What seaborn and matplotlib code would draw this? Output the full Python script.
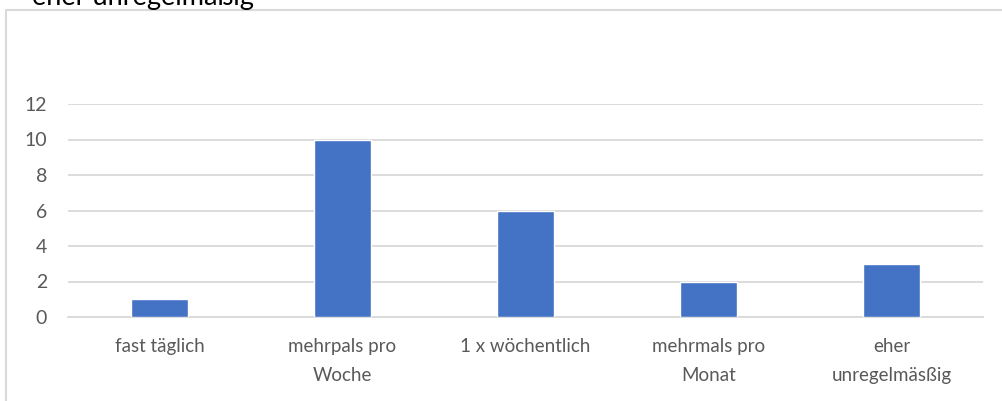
import matplotlib
matplotlib.use('Agg')
import matplotlib.pyplot as plt
import seaborn as sns
import pandas as pd
from matplotlib.patches import Rectangle

categories = ['fast täglich', 'mehrpals pro\nWoche', '1 x wöchentlich',
              'mehrmals pro\nMonat', 'eher\nunregelmäsßig']
values = [1, 10, 6, 2, 3]
yticks = [0, 2, 4, 6, 8, 10, 12]
title = 'eher unregelmäßig'

df = pd.DataFrame({'kategorie': categories, 'anzahl': values})

sns.set_theme(style='white')
plt.rcParams['font.family'] = ['Lato', 'DejaVu Sans']

W, H = 1002, 401
fig = plt.figure(figsize=(W / 100, H / 100), dpi=100)

# chart border (cut off on right and bottom)
fig.patches.append(Rectangle((5.5 / W, -0.1), 1.2, (H - 9.5) / H + 0.1,
                             transform=fig.transFigure, fill=False,
                             edgecolor='#D9D9D9', linewidth=1.5))

fig.text(32 / W, (H - 5) / H, title, fontsize=19.5, color='#000000',
         ha='left', va='baseline')

ax = fig.add_axes([68 / W, (H - 317) / H, (983 - 68) / W, 213 / H])
sns.barplot(data=df, x='kategorie', y='anzahl', color='#4472C4',
            width=0.31, saturation=1, ax=ax, zorder=3)

ax.set_ylim(0, 12)
ax.set_yticks(yticks)
ax.set_xlim(-0.5, len(categories) - 0.5)
ax.grid(axis='y', color='#D9D9D9', linewidth=1.3, zorder=0)
ax.set_axisbelow(True)
for s in ['top', 'right', 'left']:
    ax.spines[s].set_visible(False)
ax.spines['bottom'].set_color('#D9D9D9')
ax.spines['bottom'].set_linewidth(1.3)
ax.set_xlabel('')
ax.set_ylabel('')
ax.tick_params(axis='both', length=0, colors='#595959')
ax.tick_params(axis='y', pad=15, labelsize=14)
ax.tick_params(axis='x', pad=15, labelsize=13.5)
for lab in ax.get_xticklabels():
    lab.set_linespacing(1.85)
    lab.set_verticalalignment('top')

fig.savefig('out.png', dpi=100)
